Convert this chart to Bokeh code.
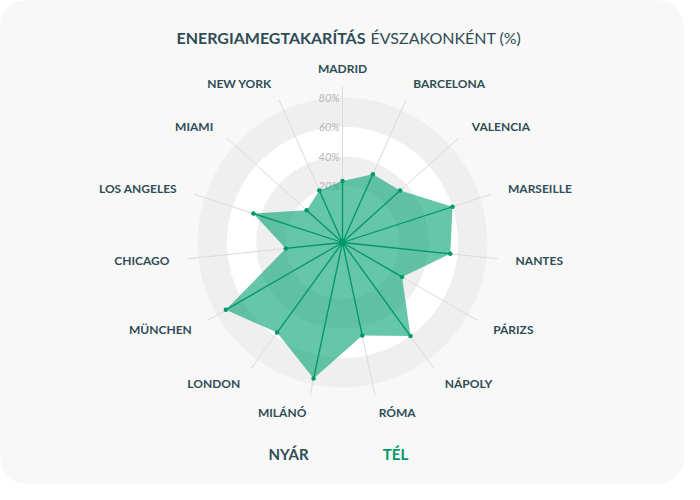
import math
from bokeh.plotting import figure
from bokeh.models import Range1d, Label
from bokeh.embed import file_html
from bokeh.resources import INLINE
from bokeh.core.properties import value

# ---- data ----
cities = ["MADRID", "BARCELONA", "VALENCIA", "MARSEILLE", "NANTES", "PÁRIZS",
          "NÁPOLY", "RÓMA", "MILÁNÓ", "LONDON", "MÜNCHEN", "CHICAGO",
          "LOS ANGELES", "MIAMI", "NEW YORK"]
tel_values = [23, 32, 34, 60, 55, 28, 60, 46, 76, 57, 73, 20, 45, 14, 20]
ticks = [20, 40, 60, 80]
tick_labels = ["20%", "40%", "60%", "80%"]
legend_names = ["NYÁR", "TÉL"]
title_bold = "ENERGIAMEGTAKARÍTÁS"
title_rest = "ÉVSZAKONKÉNT (%)"

# ---- style / layout ----
W, H = 684, 484
DARK = "#2f4d55"
GREEN = "#009868"
BG = "#f8f8f8"
R0, RMAX, VMAX = 27.7, 145.0, 80.0
SPOKE_EXT = 11
LABEL_R = 174


def rad(v):
    return R0 + v * (RMAX - R0) / VMAX


n = len(cities)
angles = [2 * math.pi * i / n for i in range(n)]

p = figure(width=W, height=H, output_backend="svg", toolbar_location=None,
           x_range=Range1d(-W / 2, W / 2), y_range=Range1d(-H / 2, H / 2),
           min_border=0, background_fill_color=BG, border_fill_color=BG,
           outline_line_color=None)
p.axis.visible = False
p.grid.visible = False
p.styles = {"border-radius": "26px", "overflow": "hidden"}

# bands
bounds = [0] + [rad(t) for t in ticks]
band_colors = ["#ffffff", "#efefef", "#ffffff", "#efefef"]
p.annulus(x=[0] * 4, y=[0] * 4, inner_radius=bounds[:-1], outer_radius=bounds[1:],
          fill_color=band_colors, line_color=None)

# grey spokes
sx = [(RMAX + SPOKE_EXT) * math.sin(a) for a in angles]
sy = [(RMAX + SPOKE_EXT) * math.cos(a) for a in angles]
p.segment(x0=[0] * n, y0=[0] * n, x1=sx, y1=sy, line_color="#dadada", line_width=1)

# tick labels
p.text(x=[-3] * len(ticks), y=[rad(t) for t in ticks], text=tick_labels,
       text_align="right", text_baseline="middle", text_font=value("Lato"),
       text_font_style="italic", text_font_size="11px", text_color="#b4b4b4")

# polygon
px = [rad(v) * math.sin(a) for v, a in zip(tel_values, angles)]
py = [rad(v) * math.cos(a) for v, a in zip(tel_values, angles)]
p.patch(px, py, fill_color="#00a072", fill_alpha=0.6, line_color=None)
p.segment(x0=[0] * n, y0=[0] * n, x1=px, y1=py, line_color=GREEN, line_width=1.3)
p.scatter(px, py, size=4.5, fill_color=GREEN, line_color=None)
p.scatter([0], [0], size=7, fill_color=GREEN, line_color=None)

# city labels
lx = [LABEL_R * math.sin(a) for a in angles]
ly = [LABEL_R * math.cos(a) for a in angles]
aligns = []
for a in angles:
    s = math.sin(a)
    aligns.append("center" if abs(s) < 0.1 else ("left" if s > 0 else "right"))
p.text(x=lx, y=ly, text=cities, text_align=aligns, text_baseline="middle",
       text_font=value("Lato"), text_font_style="bold", text_font_size="12px",
       text_color=DARK)

# title
p.add_layout(Label(x=23, y=205, text=title_bold, text_align="right",
                   text_baseline="middle", text_font="Lato", text_font_style="bold",
                   text_font_size="16px", text_color=DARK))
p.add_layout(Label(x=28, y=205, text=title_rest, text_align="left",
                   text_baseline="middle", text_font="Lato", text_font_style="normal",
                   text_font_size="16px", text_color=DARK))

# legend
leg_colors = [DARK, GREEN]
leg_x = [-54, 53]
for name, c, x in zip(legend_names, leg_colors, leg_x):
    p.add_layout(Label(x=x, y=-211, text=name, text_align="center",
                       text_baseline="middle", text_font="Lato", text_font_style="bold",
                       text_font_size="15px", text_color=c))

open("out.html", "w").write(file_html(p, INLINE))
